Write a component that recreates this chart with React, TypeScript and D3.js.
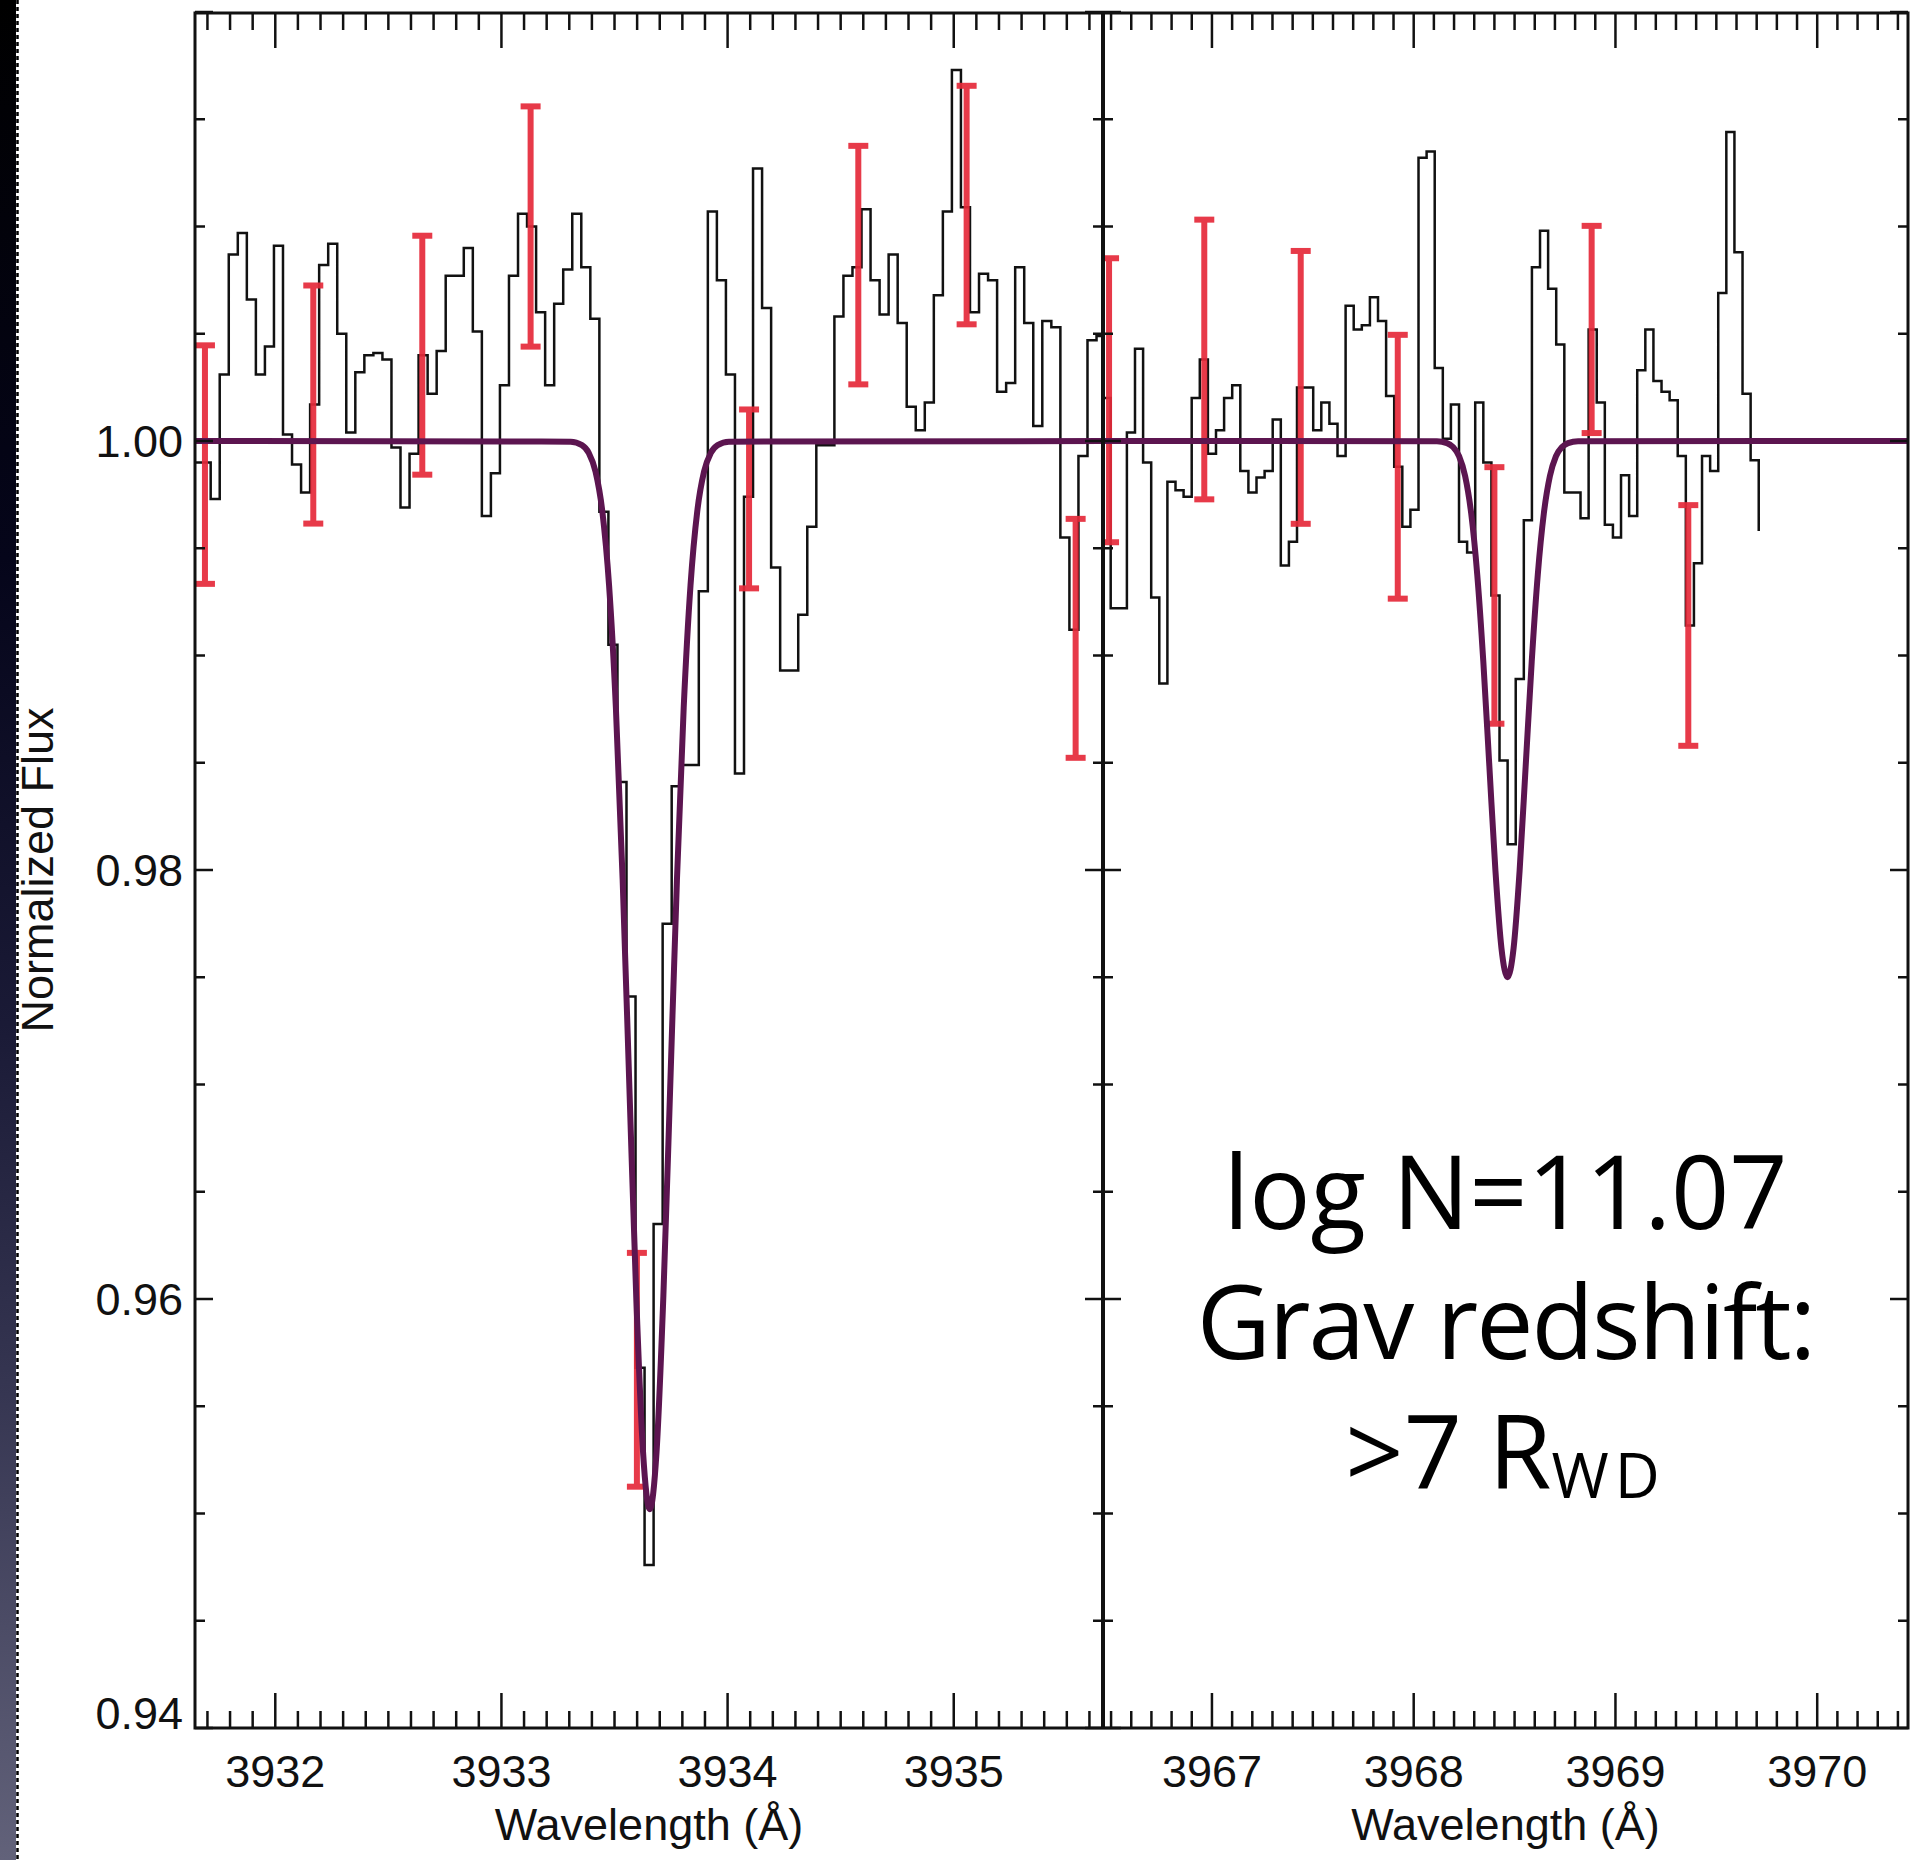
import React from "react";
import * as d3 from "d3";

// ---------- tick labels ----------
const kTickLabels = [3932, 3933, 3934, 3935];
const hTickLabels = [3967, 3968, 3969, 3970];
const yTickLabels = [0.94, 0.96, 0.98, 1.0];

// ---------- Ca II K panel: binned spectrum ----------
const kBinStart = 3931.6344;
const kBinStep = 0.03997;
const kFlux = [
  0.999, 0.999, 0.9973, 1.0031, 1.0087, 1.0097, 1.0066, 1.0031, 1.0044, 1.0091,
  1.0003, 0.9989, 0.9976, 1.0017, 1.0082, 1.0092, 1.005, 1.0004, 1.0032, 1.004,
  1.0041, 1.0038, 0.9997, 0.9969, 0.9994, 1.004, 1.0022, 1.0042, 1.0077, 1.0077,
  1.009, 1.0051, 0.9965, 0.9985, 1.0026, 1.0077, 1.0106, 1.01, 1.006, 1.0026,
  1.0064, 1.008, 1.0106, 1.0081, 1.0057, 0.9967, 0.9905, 0.9841, 0.9741, 0.9568,
  0.9476, 0.9635, 0.9775, 0.9839, 0.9849, 0.9849, 0.993, 1.0107, 1.0075, 1.0031,
  0.9845, 0.9974, 1.0127, 1.0062, 0.9941, 0.9893, 0.9893, 0.9919, 0.996, 0.9998,
  0.9998, 1.0058, 1.0077, 1.0081, 1.0108, 1.0075, 1.0059, 1.0087, 1.0055, 1.0016,
  1.0005, 1.0018, 1.0068, 1.0107, 1.0173, 1.0109, 1.006, 1.0078, 1.0075, 1.0023,
  1.0027, 1.0081, 1.0055, 1.0007, 1.0056, 1.0053, 0.9955, 0.9912, 0.9993, 1.0047,
  1.0049,
];

// ---------- Ca II H panel: binned spectrum ----------
const hBinStart = 3966.458;
const hBinStep = 0.04015;
const hFlux = [
  1.002, 0.9922, 0.9922, 1.0004, 1.0043, 0.999, 0.9927, 0.9887, 0.9981, 0.9977,
  0.9974, 1.002, 1.0038, 0.9994, 1.0005, 1.002, 1.0026, 0.9986, 0.9976, 0.9983,
  0.9986, 1.001, 0.9942, 0.9953, 1.0025, 1.0025, 1.0005, 1.0018, 1.0008, 0.9993,
  1.0063, 1.0052, 1.0054, 1.0067, 1.0056, 1.0021, 0.9988, 0.996, 0.9968, 1.0132,
  1.0135, 1.0034, 1.0001, 1.0017, 0.9953, 0.9948, 1.0018, 0.999, 0.9928, 0.9851,
  0.9812, 0.9889, 0.9963, 1.0081, 1.0098, 1.0071, 1.0045, 0.9976, 0.9976, 0.9964,
  1.0052, 1.0018, 0.9961, 0.9955, 0.9984, 0.9965, 1.0033, 1.0052, 1.0028, 1.0023,
  1.0019, 0.9993, 0.9914, 0.9943, 0.9993, 0.9986, 1.0069, 1.0144, 1.0088, 1.0022,
  0.9991, 0.9958,
];

// ---------- error bars ----------
const kErrWave = [3931.689, 3932.168, 3932.65, 3933.129, 3933.599, 3934.095, 3934.578, 3935.057, 3935.539];
const kErrFlux = [0.9989, 1.0017, 1.004, 1.01, 0.9567, 0.9973, 1.0082, 1.011, 0.9908];
const kErrSigma = [0.00556, 0.00555, 0.00557, 0.0056, 0.00545, 0.00417, 0.00556, 0.00556, 0.00557];

const hErrWave = [3966.49, 3966.962, 3967.44, 3967.921, 3968.4, 3968.882, 3969.361];
const hErrFlux = [1.0019, 1.0038, 1.0025, 0.9988, 0.9928, 1.0052, 0.9914];
const hErrSigma = [0.00662, 0.00652, 0.00636, 0.00615, 0.00598, 0.00483, 0.00561];

// ---------- model profiles ----------
const kModelWave = [
  3931.645, 3933.306, 3933.356, 3933.386, 3933.416, 3933.446, 3933.476, 3933.506, 3933.536,
  3933.566, 3933.596, 3933.626, 3933.656, 3933.686, 3933.716, 3933.746, 3933.776, 3933.806,
  3933.836, 3933.866, 3933.896, 3933.926, 3933.956, 3934.006, 3935.66,
];
const kModelFlux = [
  1.0, 0.99997, 0.99981, 0.99945, 0.99858, 0.99673, 0.99326, 0.98758, 0.97953,
  0.9698, 0.96013, 0.95289, 0.9502, 0.95289, 0.96013, 0.9698, 0.97953, 0.98758,
  0.99326, 0.99673, 0.99858, 0.99945, 0.99981, 0.99997, 1.0,
];
const hModelWave = [
  3966.46, 3968.115, 3968.165, 3968.195, 3968.225, 3968.255, 3968.285, 3968.315, 3968.345,
  3968.375, 3968.405, 3968.435, 3968.465, 3968.495, 3968.525, 3968.555, 3968.585, 3968.615,
  3968.645, 3968.675, 3968.705, 3968.735, 3968.765, 3968.815, 3970.45,
];
const hModelFlux = [
  1.0, 0.99999, 0.9999, 0.99972, 0.99929, 0.99836, 0.99662, 0.99377, 0.98972,
  0.98484, 0.97998, 0.97635, 0.975, 0.97635, 0.97998, 0.98484, 0.98972, 0.99377,
  0.99662, 0.99836, 0.99929, 0.99972, 0.9999, 0.99999, 1.0,
];

const noteLines = ["log N=11.07", "Grav redshift:"];

// ---------- layout ----------
const W = 1914;
const H = 1860;
const TOP = 13;
const BOTTOM = 1728;
const LEFT = 195;
const MID = 1103;
const RIGHT = 1908;

const AXIS_FONT = "'Liberation Sans', Arial, Helvetica, sans-serif";
const NOTE_FONT = "'Open Sans', 'Noto Sans', sans-serif";
const BLACK = "#111";
const RED = "#e62a3a";
const PURPLE = "#5c1550";

const y = d3.scaleLinear().domain([0.94, 1.02]).range([BOTTOM, 12]);
const xK = d3.scaleLinear().domain([3931.645, 3935.66]).range([LEFT, MID]);
const xH = d3.scaleLinear().domain([3966.46, 3970.45]).range([MID, RIGHT]);

function minorTicks(scale: d3.ScaleLinear<number, number>) {
  const [a, b] = scale.domain();
  return d3.range(Math.ceil(a * 10 - 1e-6), Math.floor(b * 10 + 1e-6) + 1).map((v) => v / 10);
}
const yMinor = d3.range(188, 205).map((v) => v / 200);

function stepPath(
  x: d3.ScaleLinear<number, number>,
  start: number,
  step: number,
  flux: number[],
  closeLast: boolean
) {
  const pts: [number, number][] = flux.map((f, i) => [start + i * step, f]);
  if (closeLast) pts.push([start + flux.length * step, flux[flux.length - 1]]);
  return d3
    .line<[number, number]>()
    .x((d) => x(d[0]))
    .y((d) => y(d[1]))
    .curve(d3.curveStepAfter)(pts) as string;
}

function modelPath(x: d3.ScaleLinear<number, number>, waves: number[], flux: number[]) {
  return d3
    .line<number>()
    .x((_, i) => x(waves[i]))
    .y((_, i) => y(flux[i]))
    .curve(d3.curveMonotoneX)(waves) as string;
}

function ErrorBars({
  x,
  waves,
  flux,
  sigma,
}: {
  x: d3.ScaleLinear<number, number>;
  waves: number[];
  flux: number[];
  sigma: number[];
}) {
  return (
    <g stroke={RED} strokeWidth={6} opacity={0.92}>
      {waves.map((w, i) => {
        const cx = x(w);
        const y1 = y(flux[i] + sigma[i]);
        const y2 = y(flux[i] - sigma[i]);
        return (
          <g key={i}>
            <line x1={cx} x2={cx} y1={y1} y2={y2} />
            <line x1={cx - 10} x2={cx + 10} y1={y1} y2={y1} />
            <line x1={cx - 10} x2={cx + 10} y1={y2} y2={y2} />
          </g>
        );
      })}
    </g>
  );
}

function XTicks({ x, labels }: { x: d3.ScaleLinear<number, number>; labels: number[] }) {
  const minors = minorTicks(x);
  const isMajor = (v: number) => Math.abs(v - Math.round(v)) < 1e-6;
  return (
    <g>
      <g stroke={BLACK} strokeWidth={2.5}>
        {minors.map((v, i) => {
          const px = x(v);
          const len = isMajor(v) ? 35 : 17;
          return (
            <g key={i}>
              <line x1={px} x2={px} y1={TOP} y2={TOP + len} />
              <line x1={px} x2={px} y1={BOTTOM} y2={BOTTOM - len} />
            </g>
          );
        })}
      </g>
      <g fontFamily={AXIS_FONT} fontSize={45} fill={BLACK} textAnchor="middle">
        {labels.map((v) => (
          <text key={v} x={x(v)} y={1787}>
            {v}
          </text>
        ))}
      </g>
      <text
        x={(x.range()[0] + x.range()[1]) / 2}
        y={1840}
        fontFamily={AXIS_FONT}
        fontSize={45}
        fill={BLACK}
        textAnchor="middle"
      >
        Wavelength (Å)
      </text>
    </g>
  );
}

function YTicks() {
  const isMajor = (v: number) => Math.abs(v * 50 - Math.round(v * 50)) < 1e-6;
  return (
    <g stroke={BLACK} strokeWidth={2.5}>
      {yMinor.map((v, i) => {
        const py = y(v);
        const len = isMajor(v) ? 18 : 10;
        return (
          <g key={i}>
            <line x1={LEFT} x2={LEFT + len} y1={py} y2={py} />
            <line x1={MID - len} x2={MID + len} y1={py} y2={py} />
            <line x1={RIGHT - len} x2={RIGHT} y1={py} y2={py} />
          </g>
        );
      })}
    </g>
  );
}

export default function App() {
  const kHist = stepPath(xK, kBinStart, kBinStep, kFlux, true);
  const hHist = stepPath(xH, hBinStart, hBinStep, hFlux, false);
  const kModel = modelPath(xK, kModelWave, kModelFlux);
  const hModel = modelPath(xH, hModelWave, hModelFlux);
  const noteX = (MID + RIGHT) / 2;

  return (
    <>
      <style>{"html,body{margin:0;padding:0;background:#fff;}"}</style>
      <svg
        width={W}
        height={H}
        viewBox={`0 0 ${W} ${H}`}
        style={{ position: "absolute", left: 0, top: 0, display: "block" }}
      >
        <defs>
          <linearGradient id="strip" x1="0" y1="0" x2="0" y2="1">
            <stop offset="0" stopColor="#000000" />
            <stop offset="0.3" stopColor="#05051a" />
            <stop offset="0.55" stopColor="#1a1a36" />
            <stop offset="0.75" stopColor="#363652" />
            <stop offset="1" stopColor="#62627a" />
          </linearGradient>
          <clipPath id="clipK">
            <rect x={LEFT} y={TOP} width={MID - LEFT} height={BOTTOM - TOP} />
          </clipPath>
          <clipPath id="clipH">
            <rect x={MID} y={TOP} width={RIGHT - MID} height={BOTTOM - TOP} />
          </clipPath>
        </defs>
        <rect x={0} y={0} width={W} height={H} fill="#fff" />

        {/* dark strip on the left edge */}
        <rect x={0} y={0} width={17} height={H} fill="url(#strip)" />
        <line x1={17.5} x2={17.5} y1={0} y2={H} stroke="#fff" strokeWidth={3} />
        <line x1={17.5} x2={17.5} y1={0} y2={H} stroke="#000" strokeWidth={2.5} strokeDasharray="4 3" />

        {/* spectra */}
        <g clipPath="url(#clipK)">
          <path d={kHist} fill="none" stroke={BLACK} strokeWidth={2.5} />
          <ErrorBars x={xK} waves={kErrWave} flux={kErrFlux} sigma={kErrSigma} />
          <path d={kModel} fill="none" stroke={PURPLE} strokeWidth={6} />
        </g>
        <g clipPath="url(#clipH)">
          <path d={hHist} fill="none" stroke={BLACK} strokeWidth={2.5} />
          <ErrorBars x={xH} waves={hErrWave} flux={hErrFlux} sigma={hErrSigma} />
          <path d={hModel} fill="none" stroke={PURPLE} strokeWidth={6} />
        </g>

        {/* frame */}
        <g stroke={BLACK} strokeWidth={3} fill="none">
          <rect x={LEFT} y={TOP} width={RIGHT - LEFT} height={BOTTOM - TOP} />
          <line x1={MID} x2={MID} y1={TOP} y2={BOTTOM} strokeWidth={4} />
        </g>

        <XTicks x={xK} labels={kTickLabels} />
        <XTicks x={xH} labels={hTickLabels} />
        <YTicks />

        {/* y tick labels */}
        <g fontFamily={AXIS_FONT} fontSize={45} fill={BLACK} textAnchor="end">
          {yTickLabels.map((v, i) => (
            <text key={v} x={183} y={i === 0 ? y(v) + 1 : y(v) + 16}>
              {v.toFixed(2)}
            </text>
          ))}
        </g>
        <text
          transform={`translate(53, 870) rotate(-90)`}
          fontFamily={AXIS_FONT}
          fontSize={45}
          fill={BLACK}
          textAnchor="middle"
        >
          Normalized Flux
        </text>

        {/* annotation */}
        <g fontFamily={NOTE_FONT} fontSize={102} fill="#000" textAnchor="middle">
          <text x={noteX} y={1229}>
            {noteLines[0]}
          </text>
          <text x={noteX} y={1359} letterSpacing={-2}>
            {noteLines[1]}
          </text>
          <text x={noteX} y={1489}>
            {">7 R"}
            <tspan fontSize={62} dy={9} letterSpacing={6}>
              WD
            </tspan>
          </text>
        </g>
      </svg>
    </>
  );
}
